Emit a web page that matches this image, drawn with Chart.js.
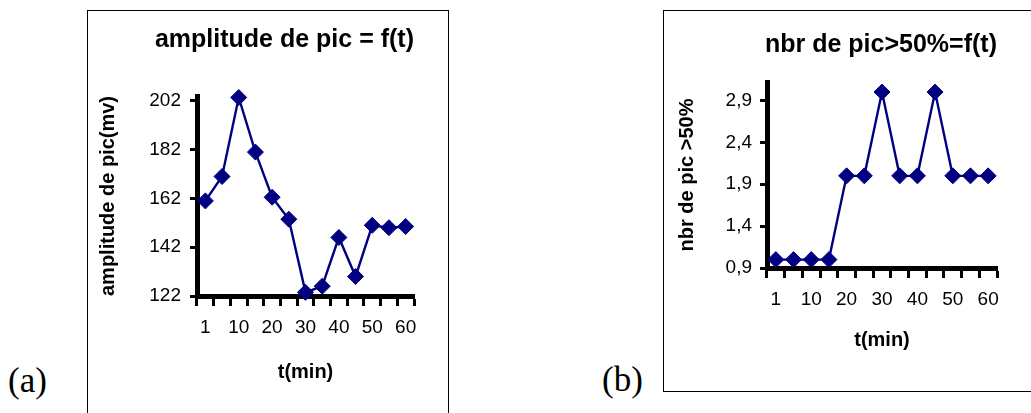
<!DOCTYPE html>
<html>
<head>
<meta charset="utf-8">
<title>amplitude / nbr de pic</title>
<script src="https://cdn.jsdelivr.net/npm/chart.js@4.4.1/dist/chart.umd.min.js"></script>
<style>
  body { margin: 0; width: 1031px; height: 413px; overflow: hidden; background: #fff; position: relative; }
  .frame { position: absolute; border: 1px solid #000; box-sizing: border-box; }
  .plot { position: absolute; }
  .tag { position: absolute; font-family: 'Liberation Serif', 'Times New Roman', serif; font-size: 35px; line-height: 35px; color: #000; }
</style>
</head>
<body>
<div class="frame" style="left:87px; top:10px; width:362px; height:420px;"></div>
<div class="plot" style="left:88px; top:11px; width:360px; height:400px;"><canvas id="amplitudeChart"></canvas></div>
<div class="tag" style="left:8px; top:363px;">(a)</div>

<div class="frame" style="left:663px; top:10px; width:420px; height:382px;"></div>
<div class="plot" style="left:664px; top:11px; width:367px; height:380px;"><canvas id="peakCountChart"></canvas></div>
<div class="tag" style="left:602px; top:362px;">(b)</div>

<script>
// sampling times (min) and the labels printed under the axis
const TIMES = ['1', '5', '10', '15', '20', '25', '30', '35', '40', '45', '50', '55', '60'];
const TIME_TICKS = ['1', '10', '20', '30', '40', '50', '60'];

// (a) peak amplitude in mV
const AMPLITUDE = [161, 171, 203.4, 181, 162.5, 153.5, 123.5, 126, 146, 130, 151, 150, 150.5];
const AMPLITUDE_TICKS = [122, 142, 162, 182, 202];

// (b) number of peaks above 50%
const PEAK_COUNT = [1, 1, 1, 1, 2, 2, 3, 2, 2, 3, 2, 2, 2];
const PEAK_COUNT_TICKS = [0.9, 1.4, 1.9, 2.4, 2.9];

const NAVY = '#000080';
const SANS = "'Liberation Sans', Arial, sans-serif";

function buildChart(canvasId, cfg) {
  return new Chart(document.getElementById(canvasId), {
    type: 'line',
    data: {
      labels: TIMES,
      datasets: [{
        data: cfg.values,
        borderColor: NAVY,
        backgroundColor: NAVY,
        borderWidth: 2.4,
        tension: 0,
        pointStyle: 'rectRot',
        pointRadius: 8,
        pointBorderWidth: 1,
        pointBackgroundColor: NAVY,
        pointBorderColor: NAVY,
        clip: false
      }]
    },
    options: {
      responsive: true,
      maintainAspectRatio: false,
      animation: false,
      events: [],
      layout: {
        padding: { left: 0, right: cfg.padRight, top: 0, bottom: 0 }
      },
      plugins: {
        legend: { display: false },
        tooltip: { enabled: false },
        title: {
          display: true,
          text: cfg.title,
          align: 'end',
          color: '#000',
          font: { family: SANS, size: 25, weight: 'bold' },
          padding: cfg.titlePadding
        }
      },
      scales: {
        x: {
          offset: true,
          afterFit: scale => { scale.height = cfg.xHeight; },
          border: { display: true, color: '#000', width: 5 },
          grid: {
            offset: true,
            drawOnChartArea: false,
            drawTicks: true,
            tickLength: 10,
            tickWidth: 3,
            tickColor: '#000'
          },
          ticks: {
            autoSkip: false,
            maxRotation: 0,
            padding: 10.5,
            color: '#000',
            font: { family: SANS, size: 19 },
            callback: function(value) {
              const label = this.getLabelForValue(value);
              return TIME_TICKS.includes(label) ? label : '';
            }
          },
          title: {
            display: true,
            text: 't(min)',
            color: '#000',
            font: { family: SANS, size: 20, weight: 'bold' },
            padding: { top: 0, bottom: cfg.xTitleBottom }
          }
        },
        y: {
          min: cfg.min,
          max: cfg.max,
          afterBuildTicks: scale => { scale.ticks = cfg.ticks.map(v => ({ value: v })); },
          afterFit: scale => { scale.width = cfg.yWidth; },
          border: { display: true, color: '#000', width: 5 },
          grid: {
            drawOnChartArea: false,
            drawTicks: true,
            tickLength: 7,
            tickWidth: 3,
            tickColor: '#000'
          },
          ticks: {
            padding: cfg.yTickPad,
            color: '#000',
            font: { family: SANS, size: 19 },
            callback: cfg.format
          },
          title: {
            display: true,
            text: cfg.yTitle,
            color: '#000',
            font: { family: SANS, size: 20, weight: 'bold' },
            padding: { top: cfg.yTitleTop, bottom: 0 }
          }
        }
      }
    }
  });
}

buildChart('amplitudeChart', {
  values: AMPLITUDE,
  ticks: AMPLITUDE_TICKS,
  min: 122,
  max: 204,
  title: 'amplitude de pic = f(t)',
  yTitle: 'amplitude de pic(mv)',
  format: value => String(value),
  padRight: 34,
  titlePadding: { top: 14, bottom: 41 },
  yWidth: 109,
  yTickPad: 9,
  yTitleTop: 8,
  xHeight: 115,
  xTitleBottom: 27
});

buildChart('peakCountChart', {
  values: PEAK_COUNT,
  ticks: PEAK_COUNT_TICKS,
  min: 0.9,
  max: 3.12,
  title: 'nbr de pic>50%=f(t)',
  yTitle: 'nbr de pic >50%',
  format: value => value.toFixed(1).replace('.', ','),
  padRight: 34,
  titlePadding: { top: 19, bottom: 22 },
  yWidth: 103,
  yTickPad: 8,
  yTitleTop: 11.5,
  xHeight: 123,
  xTitleBottom: 39
});
</script>
</body>
</html>
